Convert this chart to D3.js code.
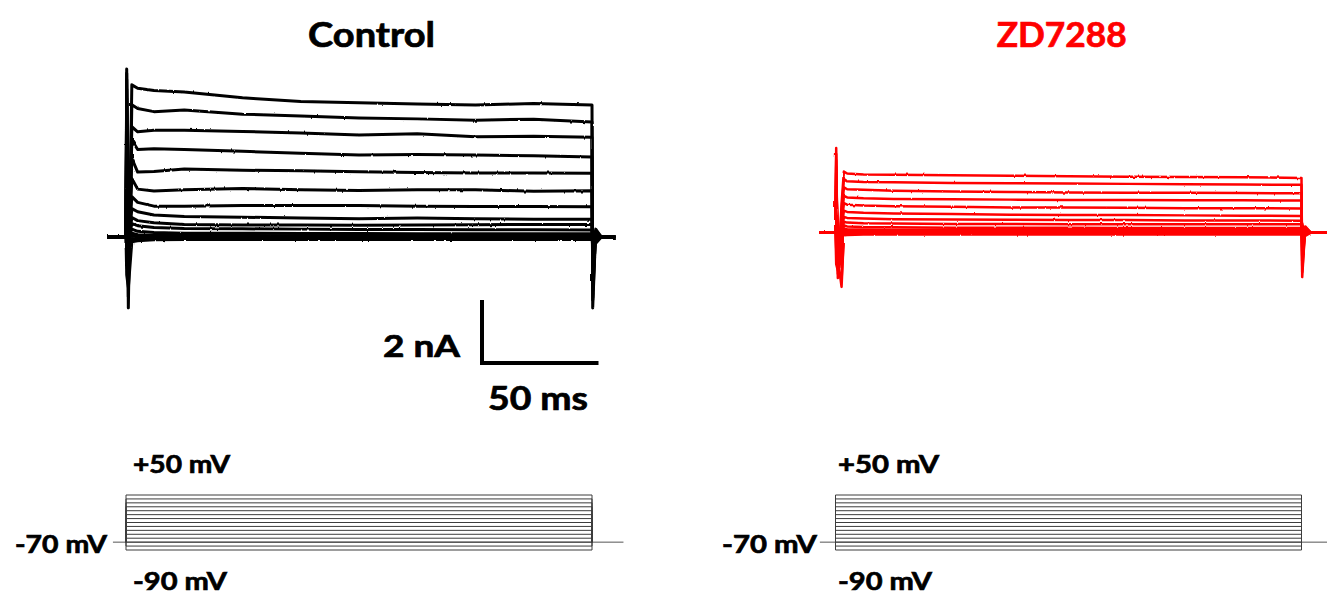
<!DOCTYPE html>
<html>
<head>
<meta charset="utf-8">
<script src="https://cdn.jsdelivr.net/npm/d3@7"></script>
<style>
  body { margin: 0; background: #fff; }
  svg { display: block; }
  text { font-family: Lato, "Open Sans", sans-serif; font-weight: 700; stroke-width: 0.7px; }
</style>
</head>
<body>
<svg id="fig" width="1327" height="600"></svg>
<script>
// ---- Protocol: 200 ms steps from -90 to +50 mV (10 mV increments), holding -70 mV ----
const stepLevelsMv = [50, 40, 30, 20, 10, 0, -10, -20, -30, -40, -50, -60, -70, -80, -90];
const holdingMv = -70;
const stepDurationMs = 200;

// Times (ms after step onset) at which the sustained current is sampled
const sampleTimesMs = [5, 12, 25, 50, 75, 100, 125, 150, 175, 200];

// ---- Control recording (nA), one row per step level, top (+50 mV) to bottom (-90 mV) ----
const controlOnsetUp   = [5.33, 5.2, 5.0, 4.7, 4.4, 4.0, 3.6, 3.2, 2.8, 2.4, 1.6, 1.0, 0.1, -0.6, -1.2];
const controlOnsetDown = [-2.25, -1.9, -1.5, -1.2, -0.9, -0.6, -0.4, -0.3, -0.2, -0.1, 0, 0, 0, -1.0, -1.6];
const controlPeak      = [4.83, 4.2, 3.5, 3.08, 2.5, 1.86, 1.28, 0.9, 0.62, 0.42, 0.25, 0.12, 0.03, -0.05, -0.15];
const controlSustained = [
  [4.72, 4.65, 4.60, 4.42, 4.30, 4.26, 4.22, 4.19, 4.24, 4.19],
  [4.08, 3.98, 4.03, 3.90, 3.84, 3.78, 3.75, 3.71, 3.74, 3.65],
  [3.34, 3.39, 3.39, 3.35, 3.30, 3.24, 3.28, 3.18, 3.20, 3.17],
  [2.78, 2.80, 2.78, 2.72, 2.66, 2.60, 2.62, 2.60, 2.58, 2.54],
  [2.06, 2.08, 2.16, 2.12, 2.10, 2.07, 2.05, 2.03, 2.03, 2.02],
  [1.52, 1.46, 1.50, 1.54, 1.50, 1.48, 1.50, 1.50, 1.45, 1.47],
  [1.10, 0.98, 0.98, 1.00, 1.00, 1.00, 0.98, 0.97, 0.97, 0.96],
  [0.80, 0.70, 0.65, 0.63, 0.60, 0.58, 0.60, 0.58, 0.56, 0.56],
  [0.52, 0.45, 0.40, 0.38, 0.38, 0.37, 0.38, 0.39, 0.40, 0.40],
  [0.36, 0.30, 0.27, 0.26, 0.25, 0.24, 0.24, 0.23, 0.23, 0.22],
  [0.18, 0.14, 0.12, 0.12, 0.11, 0.11, 0.10, 0.10, 0.10, 0.10],
  [0.07, 0.05, 0.05, 0.05, 0.04, 0.04, 0.04, 0.04, 0.04, 0.04],
  [0.01, 0.00, 0.00, 0.00, 0.00, 0.00, 0.00, 0.00, 0.00, 0.00],
  [-0.06, -0.04, -0.04, -0.04, -0.04, -0.04, -0.04, -0.04, -0.04, -0.04],
  [-0.12, -0.09, -0.08, -0.08, -0.08, -0.08, -0.08, -0.08, -0.08, -0.08]
];
const controlOffsetDown = [-2.25, -2.0, -1.7, -1.4, -1.1, -0.9, -0.7, -0.5, -0.4, -0.3, -0.2, -0.1, 0, 0.1, 0.2];
const controlTail       = [0.25, 0.2, 0.18, 0.15, 0.12, 0.1, 0.08, 0.06, 0.05, 0.04, 0.03, 0.02, 0, -0.1, -0.2];

// ---- ZD7288 recording (nA) ----
const zdOnsetUp   = [2.69, 2.5, 2.3, 2.1, 1.9, 1.7, 1.5, 1.3, 1.1, 0.9, 0.7, 0.5, 0.1, -0.5, -1.0];
const zdOnsetDown = [-1.44, -1.3, -1.1, -0.9, -0.7, -0.5, -0.4, -0.3, -0.2, -0.15, -0.1, -0.05, 0, -0.8, -1.2];
const zdRise      = [0.9, 0.7, 0.5, 0.35, 0.2, 0.1, 0.0, -0.1, -0.2, -0.3, -0.5, -0.8, -1.1, -1.72, -1.5];
const zdPeak      = [1.94, 1.70, 1.44, 1.17, 0.94, 0.70, 0.50, 0.35, 0.23, 0.13, 0.07, 0.03, -0.01, -0.04, -0.08];
const zdSustained = [
  [1.88, 1.85, 1.84, 1.82, 1.81, 1.79, 1.78, 1.77, 1.76, 1.74],
  [1.63, 1.61, 1.60, 1.58, 1.57, 1.56, 1.55, 1.54, 1.53, 1.52],
  [1.38, 1.36, 1.33, 1.31, 1.29, 1.28, 1.27, 1.27, 1.26, 1.25],
  [1.12, 1.09, 1.07, 1.06, 1.05, 1.04, 1.04, 1.03, 1.03, 1.02],
  [0.89, 0.86, 0.84, 0.82, 0.80, 0.80, 0.79, 0.78, 0.78, 0.77],
  [0.66, 0.63, 0.61, 0.59, 0.57, 0.56, 0.56, 0.55, 0.54, 0.53],
  [0.47, 0.45, 0.43, 0.42, 0.41, 0.40, 0.40, 0.39, 0.39, 0.38],
  [0.32, 0.30, 0.29, 0.28, 0.28, 0.27, 0.27, 0.27, 0.27, 0.27],
  [0.20, 0.18, 0.17, 0.16, 0.16, 0.16, 0.15, 0.15, 0.15, 0.15],
  [0.11, 0.10, 0.09, 0.09, 0.08, 0.08, 0.08, 0.08, 0.08, 0.08],
  [0.06, 0.05, 0.05, 0.04, 0.04, 0.04, 0.04, 0.04, 0.04, 0.04],
  [0.02, 0.01, 0.01, 0.01, 0.01, 0.01, 0.01, 0.01, 0.01, 0.01],
  [-0.01, -0.01, -0.01, -0.01, -0.01, -0.01, -0.01, -0.01, -0.01, -0.01],
  [-0.04, -0.03, -0.03, -0.03, -0.03, -0.03, -0.03, -0.03, -0.03, -0.03],
  [-0.07, -0.06, -0.06, -0.06, -0.06, -0.06, -0.06, -0.06, -0.06, -0.06]
];
const zdOffsetDown = [-1.41, -1.25, -1.05, -0.9, -0.75, -0.6, -0.45, -0.35, -0.25, -0.18, -0.1, -0.05, 0, 0.15, 0.3];
const zdTail       = [0.2, 0.17, 0.14, 0.12, 0.1, 0.08, 0.06, 0.05, 0.04, 0.03, 0.02, 0.01, 0, -0.05, -0.1];

// Scale bar
const scaleBarNa = 2;
const scaleBarMs = 50;

// ---- Drawing ----
const svg = d3.select("#fig");
svg.append("rect").attr("width", 1327).attr("height", 600).attr("fill", "#fff");

// Fine recording-noise texture applied to the current traces
const defs = svg.append("defs");
const f = defs.append("filter").attr("id", "jitter")
  .attr("x", "-2%").attr("y", "-10%").attr("width", "104%").attr("height", "120%");
f.append("feTurbulence").attr("type", "fractalNoise")
  .attr("baseFrequency", "0.3 0.06").attr("numOctaves", 2).attr("seed", 3).attr("result", "n");
f.append("feDisplacementMap").attr("in", "SourceGraphic").attr("in2", "n")
  .attr("scale", 2.0).attr("xChannelSelector", "R").attr("yChannelSelector", "G");

const panels = [
  {
    title: "Control", titleX: 371.5, titleLen: 127, color: "#000", width: 3.0,
    x: d3.scaleLinear().domain([0, stepDurationMs]).range([126, 592]),
    y: d3.scaleLinear().domain([0, 2]).range([237, 174]),
    preMs: -8, postMs: 210,
    onsetUp: controlOnsetUp, onsetDown: controlOnsetDown, rise: null,
    peak: controlPeak, sustained: controlSustained,
    offsetDown: controlOffsetDown, tail: controlTail,
    vLabels: { plus: [133, 97], hold: [15, 92], minus: [133, 94] },
    holdStartMs: -5.6, holdEndMs: 213.5
  },
  {
    title: "ZD7288", titleX: 1061.7, titleLen: 130, color: "#ff0000", width: 2.5,
    x: d3.scaleLinear().domain([0, stepDurationMs]).range([835.5, 1301.5]),
    y: d3.scaleLinear().domain([0, 2]).range([232.7, 169.7]),
    preMs: -7, postMs: 212,
    onsetUp: zdOnsetUp, onsetDown: zdOnsetDown, rise: zdRise,
    peak: zdPeak, sustained: zdSustained,
    offsetDown: zdOffsetDown, tail: zdTail,
    vLabels: { plus: [838, 101], hold: [722, 95], minus: [838, 94] },
    holdStartMs: -6.7, holdEndMs: 212
  }
];

const line = d3.line().x(d => d.px).y(d => d.py).curve(d3.curveLinear);

panels.forEach(p => {
  // Title
  svg.append("text")
    .attr("x", p.titleX).attr("y", 47)
    .attr("text-anchor", "middle")
    .attr("font-size", 34)
    .attr("textLength", p.titleLen).attr("lengthAdjust", "spacingAndGlyphs")
    .attr("fill", p.color).attr("stroke", p.color)
    .text(p.title);

  // Current sweeps
  const g = svg.append("g").attr("filter", "url(#jitter)");
  stepLevelsMv.forEach((mv, i) => {
    const pts = [[p.preMs, 0], [0, 0], [0.3, p.onsetUp[i]], [1.0, p.onsetDown[i]]];
    if (p.rise) pts.push([2.6, p.rise[i]]);
    pts.push([p.rise ? 3.6 : 2.5, p.peak[i]]);
    sampleTimesMs.forEach((t, k) => pts.push([t, p.sustained[i][k]]));
    pts.push([stepDurationMs + 0.3, p.offsetDown[i]]);
    pts.push([stepDurationMs + 1.6, p.tail[i]]);
    pts.push([stepDurationMs + 4, 0]);
    pts.push([p.postMs, 0]);
    g.append("path")
      .datum(pts.map(([t, v]) => ({ px: p.x(t), py: p.y(v) })))
      .attr("d", line)
      .attr("fill", "none")
      .attr("stroke", p.color)
      .attr("stroke-width", p.width)
      .attr("stroke-linejoin", "round");
  });

  // Voltage protocol
  const vy = d3.scaleLinear().domain([-90, 50]).range([550, 495]);
  const pg = svg.append("g").attr("stroke", "#3c3c3c").attr("stroke-width", 1).attr("fill", "none");
  pg.append("line")
    .attr("x1", p.x(p.holdStartMs)).attr("x2", p.x(p.holdEndMs))
    .attr("y1", vy(holdingMv)).attr("y2", vy(holdingMv))
    .attr("stroke", "#555");
  stepLevelsMv.forEach(mv => {
    pg.append("path").attr("d",
      `M${p.x(0)},${vy(holdingMv)}V${vy(mv)}H${p.x(stepDurationMs)}V${vy(holdingMv)}`);
  });

  const labelSize = 25;
  const vl = p.vLabels;
  [[`+${d3.max(stepLevelsMv)} mV`, vl.plus, 473],
   [`${holdingMv} mV`, vl.hold, 553],
   [`${d3.min(stepLevelsMv)} mV`, vl.minus, 590]].forEach(([txt, [x, len], y]) => {
    svg.append("text").attr("x", x).attr("y", y)
      .attr("font-size", labelSize)
      .attr("textLength", len).attr("lengthAdjust", "spacingAndGlyphs")
      .attr("fill", "#000").attr("stroke", "#000").text(txt);
  });
});

// Scale bar (drawn with the Control panel scales)
const cp = panels[0];
const barW = cp.x(scaleBarMs) - cp.x(0);
const barH = cp.y(0) - cp.y(scaleBarNa);
const bx = 482, by = 363;
svg.append("path")
  .attr("d", `M${bx},${by - barH}V${by}H${bx + barW}`)
  .attr("fill", "none").attr("stroke", "#000").attr("stroke-width", 4)
  .attr("stroke-linejoin", "miter");
svg.append("text").attr("x", 383).attr("y", 357).attr("font-size", 31)
  .attr("textLength", 77).attr("lengthAdjust", "spacingAndGlyphs")
  .attr("stroke", "#000").text(`${scaleBarNa} nA`);
svg.append("text").attr("x", 488).attr("y", 410).attr("font-size", 32)
  .attr("textLength", 100).attr("lengthAdjust", "spacingAndGlyphs")
  .attr("stroke", "#000").text(`${scaleBarMs} ms`);
</script>
</body>
</html>
